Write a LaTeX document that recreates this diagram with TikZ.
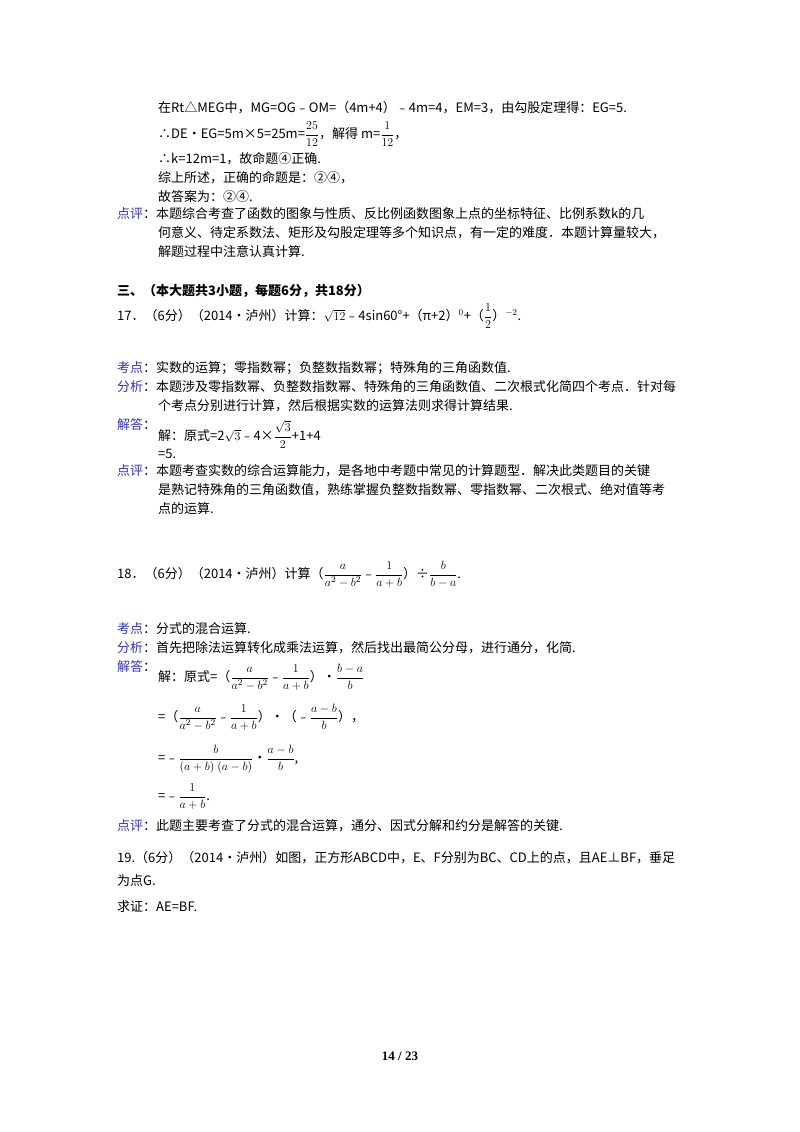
\documentclass[tikz,border=0pt]{standalone}
\usepackage{amsmath}
\usepackage{fontspec}
\setmainfont{Liberation Serif}
\newfontfamily\cjk{Noto Sans CJK SC}
\definecolor{lab}{HTML}{3333CC}
\newcommand{\lb}[1]{{\color{lab}#1}}
\begin{document}
\begin{tikzpicture}[x=1pt,y=-1pt,t/.style={anchor=base west,inner sep=0pt,font=\cjk\fontsize{13}{15}\selectfont}]
\useasboundingbox (0,0) rectangle (800,1132);
\fill[white] (0,0) rectangle (800,1132);
\node[t] (l1) at (158,112) {在Rt△MEG中，MG=OG﹣OM=（4m+4）﹣4m=4，EM=3，由勾股定理得：EG=5.};
\node[t] (l2) at (158,138) {∴DE•EG=5m×5=25m=$\dfrac{25}{12}$，解得 m=$\dfrac{1}{12}$，};
\node[t] (l3) at (158,163) {∴k=12m=1，故命题④正确.};
\node[t] (l4) at (158,182) {综上所述，正确的命题是：②④，};
\node[t] (l5) at (158,201) {故答案为：②④.};
\node[t] (p1) at (117,218) {\lb{点评}：本题综合考查了函数的图象与性质、反比例函数图象上点的坐标特征、比例系数k的几};
\node[t] (p2) at (158,237) {何意义、待定系数法、矩形及勾股定理等多个知识点，有一定的难度．本题计算量较大，};
\node[t] (p3) at (158,256) {解题过程中注意认真计算.};
\node[t] (s3) at (117,295) {\bfseries 三、（本大题共3小题，每题6分，共18分）};
\node[t] (q17) at (117,320) {17．（6分）（2014•泸州）计算：$\sqrt{12}$﹣4sin60°+（π+2）$^{0}$+（$\dfrac12$）$^{-2}$.};
\node[t] (k17) at (117,372) {\lb{考点}：实数的运算；零指数幂；负整数指数幂；特殊角的三角函数值.};
\node[t] (f17) at (117,391) {\lb{分析}：本题涉及零指数幂、负整数指数幂、特殊角的三角函数值、二次根式化简四个考点．针对每};
\node[t] (f17b) at (158,410) {个考点分别进行计算，然后根据实数的运算法则求得计算结果.};
\node[t] (j17) at (117,429) {\lb{解答}：};
\node[t] (j17a) at (158,440) {解：原式=2$\sqrt3$﹣4×$\dfrac{\sqrt3}{2}$+1+4};
\node[t] (j17b) at (158,458) {=5.};
\node[t] (d17) at (117,475) {\lb{点评}：本题考查实数的综合运算能力，是各地中考题中常见的计算题型．解决此类题目的关键};
\node[t] (d17b) at (158,494) {是熟记特殊角的三角函数值，熟练掌握负整数指数幂、零指数幂、二次根式、绝对值等考};
\node[t] (d17c) at (158,513) {点的运算.};
\node[t] (q18) at (117,578) {18．（6分）（2014•泸州）计算（$\dfrac{a}{a^2-b^2}$﹣$\dfrac{1}{a+b}$）÷$\dfrac{b}{b-a}$.};
\node[t] (k18) at (117,633) {\lb{考点}：分式的混合运算.};
\node[t] (f18) at (117,652) {\lb{分析}：首先把除法运算转化成乘法运算，然后找出最简公分母，进行通分，化简.};
\node[t] (j18) at (117,671) {\lb{解答}：};
\node[t] (j18a) at (158,681) {解：原式=（$\dfrac{a}{a^2-b^2}$﹣$\dfrac{1}{a+b}$）•$\dfrac{b-a}{b}$};
\node[t] (j18b) at (158,721) {=（$\dfrac{a}{a^2-b^2}$﹣$\dfrac{1}{a+b}$）•（﹣$\dfrac{a-b}{b}$），};
\node[t] (j18c) at (158,762) {=﹣$\dfrac{b}{(a+b)\ (a-b)}$•$\dfrac{a-b}{b}$,};
\node[t] (j18d) at (158,800) {=﹣$\dfrac{1}{a+b}$.};
\node[t] (d18) at (117,830) {\lb{点评}：此题主要考查了分式的混合运算，通分、因式分解和约分是解答的关键.};
\node[t] (q19) at (117,862) {19.（6分）（2014•泸州）如图，正方形ABCD中，E、F分别为BC、CD上的点，且AE⊥BF，垂足};
\node[t] (q19b) at (117,885) {为点G.};
\node[t] (q19c) at (117,911) {求证：AE=BF.};
\node[anchor=base,inner sep=0pt,font=\bfseries\fontsize{13}{15}\selectfont] (pg) at (400,1060) {14 / 23};
\end{tikzpicture}
\end{document}
